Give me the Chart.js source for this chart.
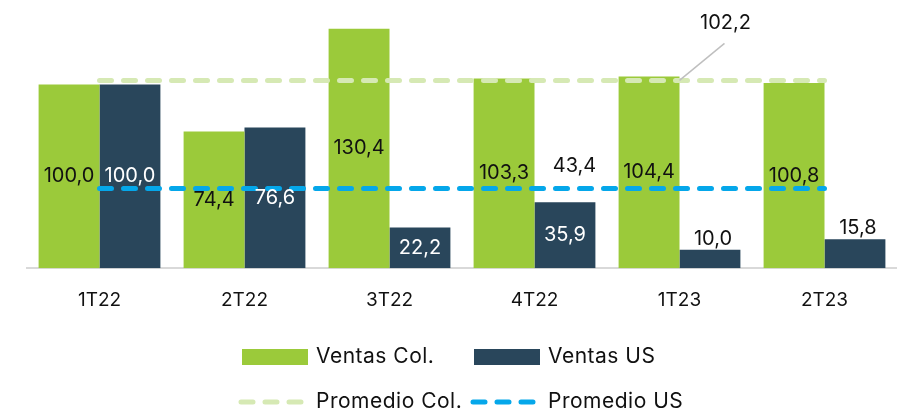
<!DOCTYPE html>
<html>
<head>
<meta charset="utf-8">
<script src="https://cdn.jsdelivr.net/npm/chart.js@4.4.1/dist/chart.umd.min.js"></script>
<style>
  html, body { margin: 0; padding: 0; background: #fff; }
  #wrap { width: 897px; height: 411px; position: relative; }
</style>
</head>
<body>
<div id="wrap"><canvas id="c"></canvas></div>
<script>
const categories = ['1T22', '2T22', '3T22', '4T22', '1T23', '2T23'];
const ventasCol = [100.0, 74.4, 130.4, 103.3, 104.4, 100.8];
const ventasUS = [100.0, 76.6, 22.2, 35.9, 10.0, 15.8];
const promedioCol = [102.2, 102.2, 102.2, 102.2, 102.2, 102.2];
const promedioUS = [43.4, 43.4, 43.4, 43.4, 43.4, 43.4];
const seriesNames = ['Ventas Col.', 'Ventas US', 'Promedio Col.', 'Promedio US'];

const GREEN = '#9BCA3A';
const NAVY = '#29465B';
const LIGHTGREEN = '#D6E9B4';
const BLUE = '#05A7EA';
const FONT = 'Inter, "Open Sans", sans-serif';

const fmt = v => v.toFixed(1).replace('.', ',');

const labelPlugin = {
  id: 'labels',
  afterDatasetsDraw(chart) {
    const ctx = chart.ctx;
    ctx.save();
    ctx.font = '20px ' + FONT;
    ctx.textAlign = 'center';
    ctx.textBaseline = 'middle';
    [0, 1].forEach(di => {
      const meta = chart.getDatasetMeta(di);
      const data = chart.data.datasets[di].data;
      meta.data.forEach((bar, i) => {
        const h = bar.base - bar.y;
        let y, color;
        if (h > 35) {
          y = bar.y + h / 2;
          color = di === 0 ? '#111' : '#fff';
        } else {
          y = bar.y - 11;
          color = '#111';
        }
        ctx.fillStyle = color;
        ctx.fillText(fmt(data[i]), bar.x + (h > 35 ? 0 : 3), y);
      });
    });
    const mUS = chart.getDatasetMeta(3);
    const pUS = mUS.data[3];
    ctx.fillStyle = '#111';
    ctx.fillText(fmt(promedioUS[3]), pUS.x + 40, pUS.y - 22);

    const mCol = chart.getDatasetMeta(2);
    const pCol = mCol.data[4];
    ctx.strokeStyle = '#BFBFBF';
    ctx.lineWidth = 1.5;
    ctx.beginPath();
    ctx.moveTo(pCol.x, pCol.y);
    ctx.lineTo(pCol.x + 45, pCol.y - 37);
    ctx.stroke();
    ctx.fillText(fmt(promedioCol[4]), pCol.x + 46, pCol.y - 57);
    ctx.restore();
  }
};

const legendPlugin = {
  id: 'customLegend',
  afterDraw(chart) {
    const ctx = chart.ctx;
    ctx.save();
    ctx.font = '21px ' + FONT;
    try { ctx.letterSpacing = '0.5px'; } catch (e) {}
    ctx.textBaseline = 'middle';
    ctx.textAlign = 'left';
    const cols = [242, 474];
    const rows = [357, 402];
    const ds = chart.data.datasets;
    [0, 1, 2, 3].forEach(k => {
      const x = cols[k % 2];
      const y = rows[Math.floor(k / 2)];
      const d = ds[k];
      if (d.type === 'line') {
        ctx.strokeStyle = d.borderColor;
        ctx.lineWidth = d.borderWidth;
        ctx.lineCap = 'round';
        ctx.setLineDash(d.borderDash);
        ctx.beginPath();
        ctx.moveTo(x - 1, y);
        ctx.lineTo(x + 60, y);
        ctx.stroke();
        ctx.setLineDash([]);
      } else {
        ctx.fillStyle = d.backgroundColor;
        ctx.fillRect(x, y - 8, 66, 16);
      }
      ctx.fillStyle = '#111';
      ctx.fillText(d.label, x + 74, y);
    });
    ctx.restore();
  }
};

new Chart(document.getElementById('c'), {
  type: 'bar',
  data: {
    labels: categories,
    datasets: [
      { type: 'bar', label: seriesNames[0], data: ventasCol, backgroundColor: GREEN, order: 2,
        categoryPercentage: 0.84, barPercentage: 1.0 },
      { type: 'bar', label: seriesNames[1], data: ventasUS, backgroundColor: NAVY, order: 2,
        categoryPercentage: 0.84, barPercentage: 1.0 },
      { type: 'line', label: seriesNames[2], data: promedioCol, borderColor: LIGHTGREEN, backgroundColor: LIGHTGREEN,
        borderWidth: 5, borderDash: [12, 12], borderCapStyle: 'round', pointRadius: 0, fill: false, order: 1 },
      { type: 'line', label: seriesNames[3], data: promedioUS, borderColor: BLUE, backgroundColor: BLUE,
        borderWidth: 5, borderDash: [12, 12], borderCapStyle: 'round', pointRadius: 0, fill: false, order: 1 }
    ]
  },
  options: {
    responsive: true,
    maintainAspectRatio: false,
    animation: false,
    layout: { padding: { top: 11, left: 27, right: 0, bottom: 78 } },
    plugins: { legend: { display: false }, tooltip: { enabled: false } },
    scales: {
      x: {
        grid: { display: false, drawTicks: false },
        border: { display: true, color: '#D9D9D9', width: 2 },
        ticks: { color: '#111', font: { family: FONT, size: 19 }, padding: 21 }
      },
      y: { display: false, min: 0, max: 140 }
    }
  },
  plugins: [labelPlugin, legendPlugin]
});
</script>
</body>
</html>
